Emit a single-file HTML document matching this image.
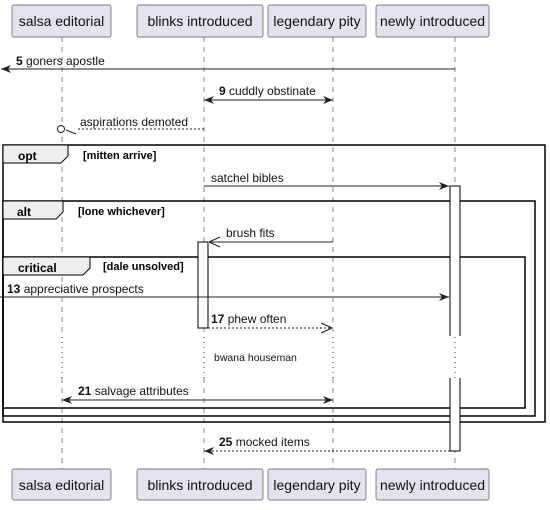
<!DOCTYPE html>
<html><head><meta charset="utf-8"><style>
html,body{margin:0;padding:0;background:#fff;}
svg text{font-family:"Liberation Sans",sans-serif;}
</style></head><body>
<svg width="550" height="505" viewBox="0 0 550 505" xmlns="http://www.w3.org/2000/svg">
<defs>
<marker id="af" viewBox="0 0 10 10" refX="10" refY="5" markerWidth="10" markerHeight="10" markerUnits="userSpaceOnUse" orient="auto-start-reverse"><path d="M0,1 L10,5 L0,9 L3,5 Z" fill="#222"/></marker>
<marker id="ao" viewBox="0 0 10 10" refX="10" refY="5" markerWidth="11" markerHeight="11" markerUnits="userSpaceOnUse" orient="auto"><path d="M0,0.5 L10,5 L0,9.5" fill="none" stroke="#222" stroke-width="1"/></marker>
</defs>
<!-- lifelines -->
<g stroke="#888" stroke-dasharray="5,5" stroke-width="1">
<line x1="62" y1="37" x2="62" y2="336"/><line x1="62" y1="378" x2="62" y2="469"/>
<line x1="204" y1="37" x2="204" y2="336"/><line x1="204" y1="378" x2="204" y2="469"/>
<line x1="333" y1="37" x2="333" y2="336"/><line x1="333" y1="378" x2="333" y2="469"/>
<line x1="455" y1="37" x2="455" y2="336"/><line x1="455" y1="378" x2="455" y2="469"/>
</g>
<g stroke="#800030" stroke-dasharray="1,4" stroke-width="1">
<line x1="62" y1="337" x2="62" y2="378"/><line x1="204" y1="337" x2="204" y2="378"/>
<line x1="333" y1="337" x2="333" y2="378"/><line x1="455" y1="337" x2="455" y2="378"/>
</g>
<!-- participants -->
<g fill="#E2E2F0" stroke="#555" stroke-width="0.7">
<rect x="12" y="5" width="99" height="32" rx="2"/><rect x="137" y="5" width="126" height="32" rx="2"/>
<rect x="268" y="5" width="98" height="32" rx="2"/><rect x="376" y="5" width="113" height="32" rx="2"/>
<rect x="12" y="469" width="99" height="31" rx="2"/><rect x="137" y="469" width="126" height="31" rx="2"/>
<rect x="268" y="469" width="98" height="31" rx="2"/><rect x="376" y="469" width="113" height="31" rx="2"/>
</g>
<g font-size="14" fill="#111" text-anchor="middle">
<text x="61.5" y="26">salsa editorial</text><text x="200" y="26">blinks introduced</text>
<text x="317" y="26">legendary pity</text><text x="432.5" y="26">newly introduced</text>
<text x="61.5" y="490">salsa editorial</text><text x="200" y="490">blinks introduced</text>
<text x="317" y="490">legendary pity</text><text x="432.5" y="490">newly introduced</text>
</g>
<!-- frames -->
<g fill="none" stroke="#000" stroke-width="1.5">
<rect x="3" y="145" width="542" height="277"/>
<rect x="3" y="201" width="532" height="215"/>
<rect x="3" y="257" width="522" height="151"/>
</g>
<g fill="#EEEEEE" stroke="#000" stroke-width="1">
<path d="M3,145 L68,145 L68,156 L61,163 L3,163 Z"/>
<path d="M3,201 L63,201 L63,212 L56,219 L3,219 Z"/>
<path d="M3,257 L90,257 L90,268 L83,275 L3,275 Z"/>
</g>
<g font-size="12" font-weight="bold" fill="#000">
<text x="18" y="160">opt</text><text x="17" y="216">alt</text><text x="18" y="272">critical</text>
</g>
<g font-size="11" font-weight="bold" fill="#000">
<text x="83" y="159">[mitten arrive]</text><text x="78" y="215">[lone whichever]</text><text x="103" y="270">[dale unsolved]</text>
</g>
<!-- activations -->
<g fill="#fff" stroke="#000" stroke-width="1">
<rect x="450" y="186" width="10" height="150" stroke="none"/>
<path d="M450,336 L450,186 L460,186 L460,336" fill="#fff"/>
<rect x="450" y="378" width="10" height="73" stroke="none"/>
<path d="M450,378 L450,451 L460,451 L460,378" fill="#fff"/>
<rect x="198" y="242" width="10" height="86"/>
</g>
<!-- messages -->
<g stroke="#222" stroke-width="1" fill="none">
<line x1="455" y1="69" x2="1" y2="69" marker-end="url(#af)"/>
<line x1="204" y1="100" x2="333" y2="100" marker-start="url(#af)" marker-end="url(#af)"/>
<line x1="204" y1="129" x2="76" y2="129" stroke-dasharray="2,2"/>
<line x1="66" y1="130" x2="76" y2="134"/>
<circle cx="61" cy="129" r="3.5" fill="#fff"/>
<line x1="204" y1="186" x2="449" y2="186" marker-end="url(#af)"/>
<line x1="333" y1="242" x2="209" y2="242" marker-end="url(#ao)"/>
<line x1="0" y1="297" x2="449" y2="297" marker-end="url(#af)"/>
<line x1="208" y1="328" x2="332" y2="328" stroke-dasharray="2,2" marker-end="url(#ao)"/>
<line x1="62" y1="400" x2="333" y2="400" marker-start="url(#af)" marker-end="url(#af)"/>
<line x1="450" y1="451" x2="204" y2="451" stroke-dasharray="2,2" marker-end="url(#af)"/>
</g>
<g font-size="12" fill="#111">
<text x="16" y="65"><tspan font-weight="bold">5</tspan> goners apostle</text>
<text x="219" y="95"><tspan font-weight="bold">9</tspan> cuddly obstinate</text>
<text x="80" y="126">aspirations demoted</text>
<text x="211" y="182">satchel bibles</text>
<text x="226" y="237">brush fits</text>
<text x="7" y="293"><tspan font-weight="bold">13</tspan> appreciative prospects</text>
<text x="211" y="323"><tspan font-weight="bold">17</tspan> phew often</text>
<text x="214" y="361" font-size="10.5">bwana houseman</text>
<text x="78" y="395"><tspan font-weight="bold">21</tspan> salvage attributes</text>
<text x="219" y="446"><tspan font-weight="bold">25</tspan> mocked items</text>
</g>
</svg>
</body></html>
